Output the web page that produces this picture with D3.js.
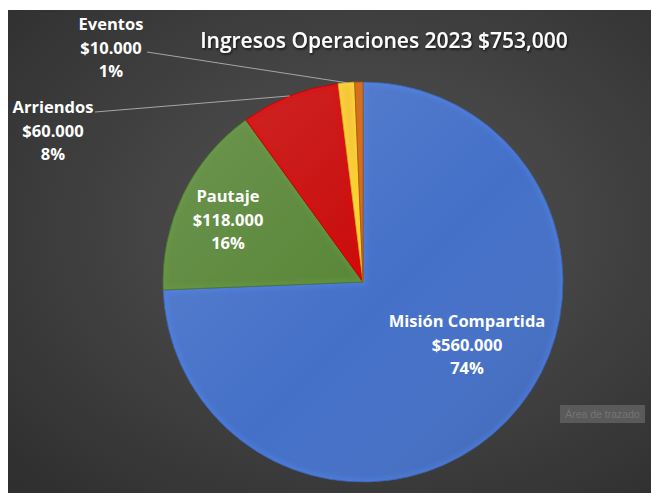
<!DOCTYPE html>
<html>
<head>
<meta charset="utf-8">
<script src="https://cdn.jsdelivr.net/npm/d3@7"></script>
<style>
  html, body { margin: 0; padding: 0; background: #fff; }
  svg { display: block; }
</style>
</head>
<body>
<script>
// Ingresos Operaciones 2023 - pie chart

const categories = ["Misión Compartida", "Pautaje", "Arriendos", "Eventos", "Otros"];
const values = [560000, 118000, 60000, 10000, 5000];
const showLabel = [true, true, true, true, false];
const titleText = "Ingresos Operaciones 2023 $753,000";

const colors = ["#4470c8", "#578536", "#c80808", "#f5c02a", "#c2600f"];

const width = 651;
const height = 493;
const frame = { x: 8, y: 10 };
const cx = 363, cy = 282, radius = 200;

// label anchor points (center x, first baseline y) and leader line starts
const labelPos = [
  { x: 467, y: 327, inside: true },
  { x: 228, y: 202, inside: true },
  { x: 53, y: 113, inside: false, lx: 95, ly: 112 },
  { x: 111, y: 30, inside: false, lx: 147, ly: 52 },
  null
];

const svg = d3.select("body")
  .append("svg")
  .attr("width", width)
  .attr("height", height);

const defs = svg.append("defs");

// background gradient
const bg = defs.append("radialGradient")
  .attr("id", "bg")
  .attr("cx", "55%").attr("cy", "45%").attr("r", "75%");
bg.append("stop").attr("offset", "0%").attr("stop-color", "#555555");
bg.append("stop").attr("offset", "100%").attr("stop-color", "#2f2f2f");

svg.append("rect")
  .attr("x", frame.x)
  .attr("y", frame.y)
  .attr("width", width - frame.x)
  .attr("height", height - frame.y)
  .attr("fill", "url(#bg)");

// soft bevel blur
defs.append("filter")
  .attr("id", "soft")
  .append("feGaussianBlur")
  .attr("stdDeviation", 2.5);

const shadow = defs.append("filter").attr("id", "tshadow")
  .attr("x", "-10%").attr("y", "-30%").attr("width", "120%").attr("height", "160%");
shadow.append("feDropShadow")
  .attr("dx", 1).attr("dy", 1.5).attr("stdDeviation", 1.2)
  .attr("flood-color", "#000").attr("flood-opacity", 0.7);

// light from top-left, darker to bottom-right
const shade = defs.append("linearGradient")
  .attr("id", "shade")
  .attr("gradientUnits", "userSpaceOnUse")
  .attr("x1", -radius).attr("y1", -radius)
  .attr("x2", radius).attr("y2", radius);
shade.append("stop").attr("offset", "0%").attr("stop-color", "#fff").attr("stop-opacity", 0.14);
shade.append("stop").attr("offset", "55%").attr("stop-color", "#fff").attr("stop-opacity", 0);
shade.append("stop").attr("offset", "100%").attr("stop-color", "#000").attr("stop-opacity", 0.12);

const total = d3.sum(values);
const data = categories.map((c, i) => ({ name: c, value: values[i], i: i }));

const pie = d3.pie().value(d => d.value).sort(null);
const arc = d3.arc().innerRadius(0).outerRadius(radius);
const arcs = pie(data);

arcs.forEach(a => {
  defs.append("clipPath")
    .attr("id", "clip" + a.data.i)
    .append("path")
    .attr("d", arc(a));
});

const g = svg.append("g")
  .attr("transform", `translate(${cx}, ${cy})`);

const slices = g.selectAll("g.slice")
  .data(arcs)
  .enter()
  .append("g")
  .attr("class", "slice");

slices.append("path")
  .attr("d", arc)
  .attr("fill", d => colors[d.data.i]);

slices.append("path")
  .attr("d", arc)
  .attr("fill", "url(#shade)");

// inner highlight along the edges (bevel look)
slices.append("path")
  .attr("d", arc)
  .attr("clip-path", d => `url(#clip${d.data.i})`)
  .attr("fill", "none")
  .attr("stroke", d => d3.color(colors[d.data.i]).brighter(0.6))
  .attr("stroke-opacity", 0.4)
  .attr("stroke-width", 6)
  .attr("filter", "url(#soft)");

slices.append("path")
  .attr("d", arc)
  .attr("fill", "none")
  .attr("stroke", d => d3.color(colors[d.data.i]).darker(0.4))
  .attr("stroke-width", 0.8);

// leader lines for outside labels
arcs.forEach(a => {
  const p = labelPos[a.data.i];
  if (!p || p.inside) return;
  const mid = (a.startAngle + a.endAngle) / 2;
  const ex = cx + radius * Math.sin(mid);
  const ey = cy - radius * Math.cos(mid);
  svg.append("line")
    .attr("x1", p.lx).attr("y1", p.ly)
    .attr("x2", ex).attr("y2", ey)
    .attr("stroke", "#a6a6a6")
    .attr("stroke-width", 1);
});

// data labels
const fmt = v => "$" + d3.format(",")(v).replace(/,/g, ".");
const pct = v => Math.round(v / total * 100) + "%";

arcs.forEach(a => {
  const p = labelPos[a.data.i];
  if (!p || !showLabel[a.data.i]) return;
  const lines = [a.data.name, fmt(a.data.value), pct(a.data.value)];
  const t = svg.append("text")
    .attr("text-anchor", "middle")
    .attr("font-family", "'Open Sans', sans-serif")
    .attr("font-weight", 700)
    .attr("font-size", "16.5px")
    .attr("fill", "#ffffff");
  lines.forEach((s, k) => {
    t.append("tspan")
      .attr("x", p.x)
      .attr("y", p.y + k * 23.5)
      .text(s);
  });
});

// title
svg.append("text")
  .attr("x", 384)
  .attr("y", 48)
  .attr("text-anchor", "middle")
  .attr("font-family", "'Open Sans', sans-serif")
  .attr("font-weight", 600)
  .attr("font-size", "21px")
  .attr("fill", "#ffffff")
  .attr("filter", "url(#tshadow)")
  .text(titleText);

// Excel hover tip left in the screenshot
svg.append("rect")
  .attr("x", 560).attr("y", 405)
  .attr("width", 85).attr("height", 18)
  .attr("fill", "#5a5a5a");
svg.append("text")
  .attr("x", 602.5).attr("y", 418)
  .attr("text-anchor", "middle")
  .attr("font-family", "'Liberation Sans', sans-serif")
  .attr("font-size", "10.5px")
  .attr("fill", "#747474")
  .text("Área de trazado");
</script>
</body>
</html>
